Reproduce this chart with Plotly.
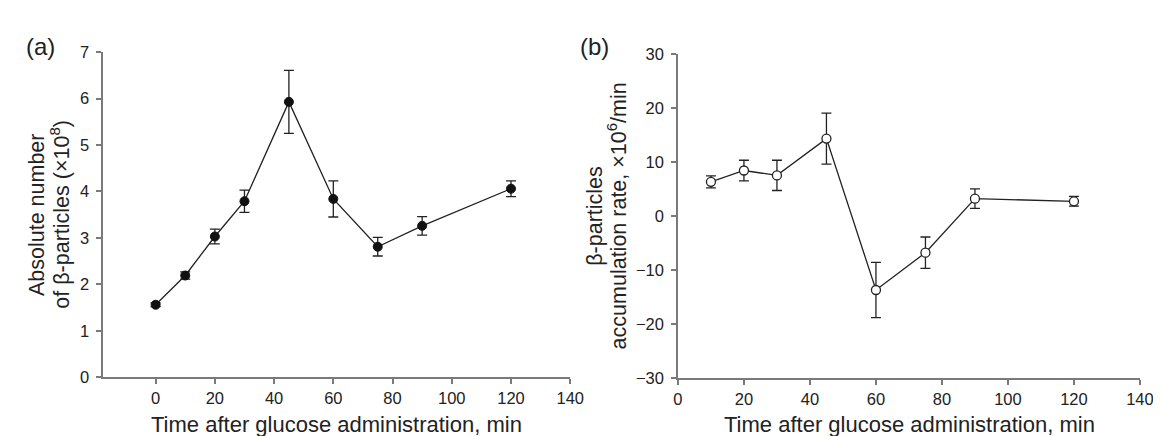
import plotly.graph_objects as go

# Panel (a): absolute number of beta-particles (x10^8)
time_a = [0, 10, 20, 30, 45, 60, 75, 90, 120]
abs_number = [1.56, 2.19, 3.03, 3.79, 5.93, 3.84, 2.81, 3.26, 4.06]
abs_err = [0.04, 0.08, 0.16, 0.24, 0.68, 0.39, 0.20, 0.20, 0.17]

# Panel (b): accumulation rate (x10^6/min)
time_b = [10, 20, 30, 45, 60, 75, 90, 120]
acc_rate = [6.3, 8.4, 7.5, 14.3, -13.7, -6.8, 3.2, 2.7]
acc_err = [1.1, 1.9, 2.8, 4.7, 5.1, 2.9, 1.8, 0.9]

x_ticks = [0, 20, 40, 60, 80, 100, 120, 140]
y_ticks_a = [0, 1, 2, 3, 4, 5, 6, 7]
y_ticks_b = [-30, -20, -10, 0, 10, 20, 30]

W, H = 1161, 436
FONT = "Liberation Sans, Arial, sans-serif"
TXT = "#222222"
AX = "#7a7a7a"

fig = go.Figure()

fig.add_trace(go.Scatter(
    x=time_a, y=abs_number, mode="lines+markers",
    line=dict(color="#222222", width=1.3),
    marker=dict(symbol="circle", size=9, color="#111111", line=dict(color="#111111", width=1)),
    error_y=dict(type="data", array=abs_err, visible=True, color="#222222", thickness=1.3, width=5),
    xaxis="x", yaxis="y", showlegend=False,
))

fig.add_trace(go.Scatter(
    x=time_b, y=acc_rate, mode="lines+markers",
    line=dict(color="#222222", width=1.3),
    marker=dict(symbol="circle", size=9, color="white", line=dict(color="#222222", width=1.3)),
    error_y=dict(type="data", array=acc_err, visible=True, color="#222222", thickness=1.3, width=5),
    xaxis="x2", yaxis="y2", showlegend=False,
))

def px_x(p):
    return p / W

def px_y(p):
    return 1 - p / H

axis_common = dict(
    showline=True, linecolor=AX, linewidth=1.5,
    ticks="outside", ticklen=5, tickwidth=1.5, tickcolor=AX,
    showgrid=False, zeroline=False, mirror=False,
    tickfont=dict(family=FONT, size=16.5, color=TXT),
    fixedrange=True,
)

fig.update_layout(
    width=W, height=H,
    margin=dict(l=0, r=0, t=0, b=0),
    paper_bgcolor="white", plot_bgcolor="white",
    font=dict(family=FONT, color=TXT),
    xaxis=dict(domain=[px_x(91.7), px_x(566.5)], range=[-17.7, 140], tickvals=x_ticks,
               anchor="y", **axis_common),
    yaxis=dict(domain=[px_y(375.7), px_y(36.7)], range=[0, 7], tickvals=y_ticks_a,
               anchor="x", ticklabelstandoff=4, **axis_common),
    xaxis2=dict(domain=[px_x(676), px_x(1145.7)], range=[0, 140], tickvals=x_ticks,
                anchor="y2", **axis_common),
    yaxis2=dict(domain=[px_y(376.7), px_y(38.3)], range=[-30, 30], tickvals=y_ticks_b,
                anchor="x2", ticklabelstandoff=4, **axis_common),
)

def ann(text, x, y, size, angle=0):
    fig.add_annotation(text=text, x=px_x(x), y=px_y(y), xref="paper", yref="paper",
                       xanchor="center", yanchor="middle", showarrow=False,
                       textangle=angle, font=dict(family=FONT, size=size, color=TXT))

# Panel labels
ann("(a)", 27.5, 31, 24)
ann("(b)", 591, 31, 24)

# X titles
ann("Time after glucose administration, min", 329, 425, 22)
ann("Time after glucose administration, min", 911, 425, 22)

# Y titles (a)
ann("Absolute number", 25, 206, 21.5, -90)
ann("of β-particles (×10<sup>8</sup>)", 48, 206, 21.5, -90)

# Y titles (b)
ann("β-particles", 592, 207, 21.5, -90)
ann("accumulation rate, ×10<sup>6</sup>/min", 615, 207, 21.5, -90)

fig.write_html("out.html")
